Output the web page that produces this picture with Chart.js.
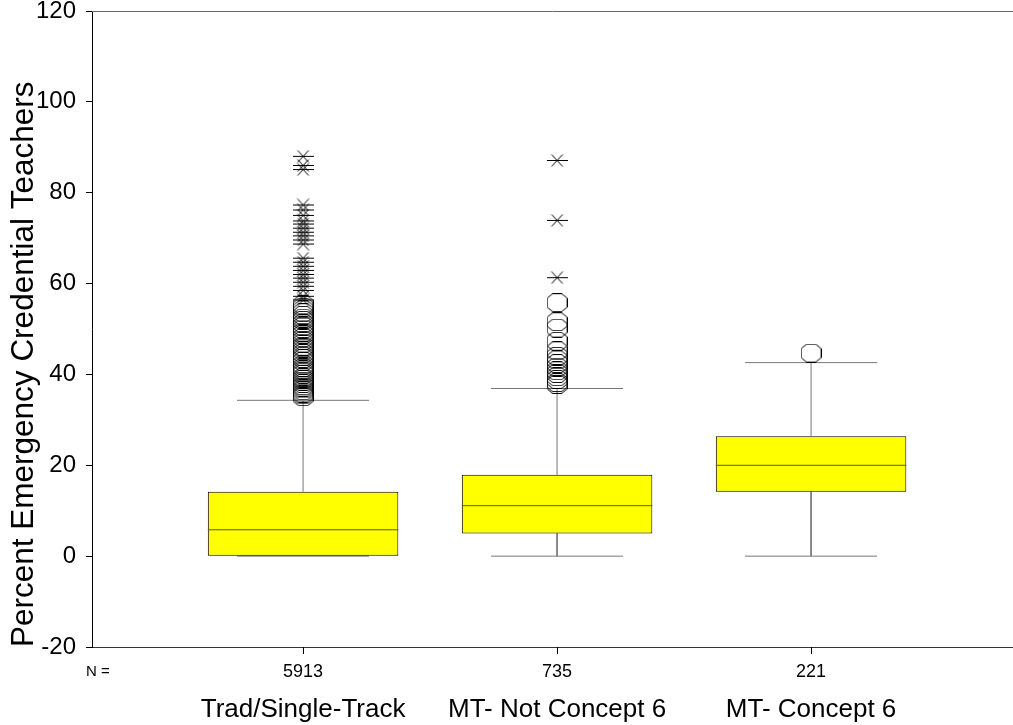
<!DOCTYPE html>
<html>
<head>
<meta charset="utf-8">
<script src="https://cdn.jsdelivr.net/npm/chart.js@4.4.1/dist/chart.umd.min.js"></script>
<style>
  html, body { margin: 0; padding: 0; background: #fff; }
  #wrap { width: 1013px; height: 725px; position: relative; }
</style>
</head>
<body>
<div id="wrap"><canvas id="box"></canvas></div>
<script>
const groups = ["Trad/Single-Track", "MT- Not Concept 6", "MT- Concept 6"];
const counts = [5913, 735, 221];
const lowWhisker = [0, 0, 0];
const q1 = [0, 5.0, 14.2];
const medians = [5.8, 11.1, 20.0];
const q3 = [14.2, 17.9, 26.4];
const highWhisker = [34.3, 36.9, 42.6];

// circles (outliers) per group
const outliers = [
  [35.1, 35.5, 35.9, 36.4, 36.8, 37.2, 37.5, 38.0, 38.5, 38.9, 39.3, 40.0, 40.5,
   41.0, 41.5, 42.1, 42.9, 43.5, 44.0, 44.6, 45.2, 45.8, 46.2, 46.9, 47.5, 48.1,
   48.8, 49.3, 50.0, 50.6, 51.2, 51.9, 52.4, 53.0, 53.6, 54.2, 54.8, 55.3],
  [55.8, 51.6, 50.2, 47.3, 45.2, 44.0, 43.2, 42.4, 41.6, 40.8, 40.2, 39.5, 38.9, 38.2, 37.8],
  [44.7]
];
// asterisks (extremes) per group
const extremes = [
  [88.0, 86.0, 85.1, 77.3, 76.2, 75.0, 73.8, 73.1, 72.2, 71.3, 70.5, 69.6, 68.7,
   65.6, 64.7, 63.8, 62.9, 62.0, 61.2, 60.3, 59.4, 58.5, 57.2, 56.4],
  [87.1, 73.9, 61.3],
  []
];

const FONT = '"Liberation Sans", Arial, sans-serif';
const BOX_W = 0.75;   // share of category spacing
const CAP_W = 0.52;

function segments(list) {
  const pts = [];
  list.forEach(s => {
    pts.push({x: s[0], y: s[1]}, {x: s[2], y: s[3]}, {x: s[2], y: null});
  });
  return pts;
}

function asteriskMark() {
  const c = document.createElement('canvas');
  c.width = 21; c.height = 13;
  const g = c.getContext('2d');
  g.strokeStyle = '#000'; g.lineWidth = 1;
  g.beginPath();
  g.moveTo(0, 6.5); g.lineTo(21, 6.5);
  g.moveTo(5, 0.5); g.lineTo(16, 12.5);
  g.moveTo(16, 0.5); g.lineTo(5, 12.5);
  g.stroke();
  return c;
}

function octagonMark() {
  const c = document.createElement('canvas');
  c.width = 21; c.height = 19;
  const g = c.getContext('2d');
  g.strokeStyle = '#000'; g.lineWidth = 1;
  const pts = [[6, 0.5], [15, 0.5], [20.5, 5], [20.5, 14], [15, 18.5], [6, 18.5], [0.5, 14], [0.5, 5]];
  g.beginPath();
  pts.forEach((p, i) => i ? g.lineTo(p[0], p[1]) : g.moveTo(p[0], p[1]));
  g.closePath();
  g.stroke();
  return c;
}

const whiskerSegs = [];
const medianSegs = [];
groups.forEach((g, i) => {
  const x = i + 1;
  whiskerSegs.push([x, q3[i], x, highWhisker[i]]);
  whiskerSegs.push([x, q1[i], x, lowWhisker[i]]);
  whiskerSegs.push([x - CAP_W / 2, highWhisker[i], x + CAP_W / 2, highWhisker[i]]);
  whiskerSegs.push([x - CAP_W / 2, lowWhisker[i], x + CAP_W / 2, lowWhisker[i]]);
  medianSegs.push([x - BOX_W / 2, medians[i], x + BOX_W / 2, medians[i]]);
});

const circlePts = [];
const starPts = [];
groups.forEach((g, i) => {
  outliers[i].forEach(v => circlePts.push({x: i + 1, y: v}));
  extremes[i].forEach(v => starPts.push({x: i + 1, y: v}));
});

const labelsPlugin = {
  id: 'labels',
  afterDraw(chart) {
    const {ctx, chartArea, scales} = chart;
    ctx.save();
    ctx.strokeStyle = '#666';
    ctx.lineWidth = 1;
    ctx.beginPath();
    ctx.moveTo(chartArea.left, chartArea.top + 0.5);
    ctx.lineTo(chartArea.right, chartArea.top + 0.5);
    ctx.stroke();
    // category tick marks under the axis
    ctx.strokeStyle = '#000';
    ctx.beginPath();
    groups.forEach((g, i) => {
      const px = Math.round(scales.x.getPixelForValue(i + 1)) + 0.5;
      ctx.moveTo(px, chartArea.bottom);
      ctx.lineTo(px, chartArea.bottom + 7);
    });
    ctx.stroke();
    ctx.fillStyle = '#000';
    ctx.textBaseline = 'middle';
    ctx.textAlign = 'left';
    ctx.font = '15px ' + FONT;
    ctx.fillText('N =', 86, 672);
    ctx.font = '26px ' + FONT;
    ctx.textAlign = 'center';
    groups.forEach((g, i) => ctx.fillText(g, scales.x.getPixelForValue(i + 1), 710));
    ctx.restore();
  }
};

Chart.defaults.font.family = FONT;
Chart.defaults.color = '#000';

new Chart(document.getElementById('box'), {
  type: 'bar',
  data: {
    datasets: [
      {
        type: 'scatter',
        data: starPts,
        pointStyle: asteriskMark(),
        order: 0
      },
      {
        type: 'scatter',
        data: circlePts,
        pointStyle: octagonMark(),
        order: 0
      },
      {
        type: 'line',
        data: segments(medianSegs),
        borderColor: '#5e5e00',
        borderWidth: 1,
        pointRadius: 0,
        spanGaps: false,
        order: 1
      },
      {
        type: 'bar',
        data: groups.map((g, i) => ({x: i + 1, y: [q1[i], q3[i]]})),
        backgroundColor: '#ffff00',
        borderColor: '#000',
        borderWidth: 1,
        borderSkipped: false,
        categoryPercentage: 1,
        barPercentage: BOX_W,
        order: 2
      },
      {
        type: 'line',
        data: segments(whiskerSegs),
        borderColor: '#777',
        borderWidth: 1,
        pointRadius: 0,
        spanGaps: false,
        order: 3
      }
    ]
  },
  options: {
    responsive: true,
    maintainAspectRatio: false,
    animation: false,
    events: [],
    layout: { autoPadding: false, padding: { top: 11, right: 0, left: 0, bottom: 0 } },
    plugins: {
      legend: { display: false },
      tooltip: { enabled: false }
    },
    scales: {
      x: {
        type: 'linear',
        min: 0.169,
        max: 3.795,
        offset: false,
        afterBuildTicks(scale) {
          scale.ticks = groups.map((g, i) => ({value: i + 1}));
        },
        afterFit(scale) {
          scale.height = 78;
          scale.paddingLeft = 0;
          scale.paddingRight = 0;
        },
        ticks: {
          font: { size: 18 },
          padding: 14,
          maxRotation: 0,
          callback: (v, i) => counts[i]
        },
        grid: { display: false, offset: false, drawOnChartArea: false, drawTicks: false },
        border: { color: '#333' }
      },
      y: {
        min: -20,
        max: 120,
        afterBuildTicks(scale) {
          scale.ticks = [-20, 0, 20, 40, 60, 80, 100, 120].map(v => ({value: v}));
        },
        afterFit(scale) {
          scale.width = 92;
          scale.paddingTop = 0;
          scale.paddingBottom = 0;
        },
        ticks: { font: { size: 24 }, padding: 10 },
        grid: { drawOnChartArea: false, drawTicks: true, tickLength: 6, color: '#000' },
        border: { color: '#000' },
        title: {
          display: true,
          text: 'Percent Emergency Credential Teachers',
          align: 'start',
          font: { size: 31.5 },
          padding: { top: 5, bottom: 0 }
        }
      }
    }
  },
  plugins: [labelsPlugin]
});
</script>
</body>
</html>
